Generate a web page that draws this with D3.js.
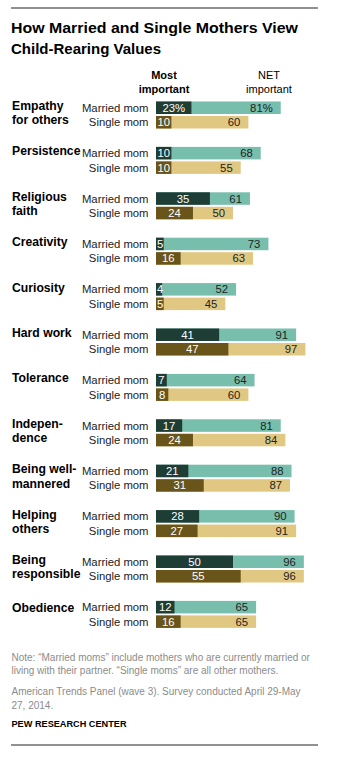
<!DOCTYPE html>
<html><head><meta charset="utf-8">
<script src="https://cdn.jsdelivr.net/npm/d3@7"></script>
<style>
body{margin:0;background:#fff;}
svg{display:block;font-family:"Liberation Sans",Arial,sans-serif;}
</style></head><body>
<svg id="chart" width="349" height="757"></svg>
<script>
const categories = [
  ["Empathy","for others"],
  ["Persistence"],
  ["Religious","faith"],
  ["Creativity"],
  ["Curiosity"],
  ["Hard work"],
  ["Tolerance"],
  ["Indepen-","dence"],
  ["Being well-","mannered"],
  ["Helping","others"],
  ["Being","responsible"],
  ["Obedience"]
];
const groups = ["Married mom","Single mom"];
const marriedMost = [23,10,35,5,4,41,7,17,21,28,50,12];
const marriedNet  = [81,68,61,73,52,91,64,81,88,90,96,65];
const singleMost  = [10,10,24,16,5,47,8,24,31,27,55,16];
const singleNet   = [60,55,50,63,45,97,60,84,87,91,96,65];
const headers = [["Most","important"],["NET","important"]];
const title = ["How Married and Single Mothers View","Child-Rearing Values"];
const notes = [
  "Note: \u201cMarried moms\u201d include mothers who are currently married or",
  "living with their partner. \u201cSingle moms\u201d are all other mothers."
];
const source = ["American Trends Panel (wave 3). Survey conducted April 29-May","27, 2014."];
const credit = "PEW RESEARCH CENTER";

const colors = {
  married:{most:"#1e3d35", net:"#77bead"},
  single:{most:"#69541a", net:"#e1c882"}
};

const svg = d3.select("#chart");
const x = d3.scaleLinear().domain([0,100]).range([156,310]);
const gy = d3.scaleLinear().domain([0,11]).range([101.5,101.5+11*45.4]);
const barH = 12.5, rowStep = 14.5;

// rules
svg.append("line").attr("x1",11).attr("x2",318).attr("y1",8).attr("y2",8).attr("stroke","#222").attr("stroke-width",1);
svg.append("line").attr("x1",11).attr("x2",318).attr("y1",745).attr("y2",745).attr("stroke","#222").attr("stroke-width",1);

// title
svg.append("g").selectAll("text").data(title).join("text")
  .attr("x",11).attr("y",(d,i)=>33.3+i*21)
  .attr("font-size",15).attr("font-weight","bold").attr("fill","#000")
  .text(d=>d).each(function(){ fitWidth(this, 287, 0); });

function fitWidth(node, target, idx){
  // only apply to first title line
  const w = node.getComputedTextLength();
  if (node.textContent===title[0] && Math.abs(w-target)>2) {
    d3.select(node).attr("textLength",target).attr("lengthAdjust","spacingAndGlyphs");
  }
}

// headers
const hx = [164,269];
headers.forEach((h,j)=>{
  svg.append("text").attr("x",hx[j]).attr("y",78.5).attr("text-anchor","middle")
    .attr("font-size",11).attr("font-weight",j===0?"bold":"normal").attr("fill","#000")
    .selectAll("tspan").data(h).join("tspan").attr("x",hx[j]).attr("dy",(d,i)=>i?14:0).text(d=>d);
});

const rows = [];
categories.forEach((c,i)=>{
  rows.push({i, r:0, most:marriedMost[i], net:marriedNet[i], col:colors.married});
  rows.push({i, r:1, most:singleMost[i], net:singleNet[i], col:colors.single});
});

const g = svg.append("g");
// category labels
categories.forEach((c,i)=>{
  const y0 = gy(i)+8.5 + (c.length===1 && i===categories.length-1 ? 3 : 0);
  g.append("text").attr("x",12).attr("y",y0).attr("font-size",12.2).attr("font-weight","bold").attr("fill","#000")
    .selectAll("tspan").data(c).join("tspan").attr("x",12).attr("dy",(d,k)=>k?14.3:0).text(d=>d);
});

const rg = g.selectAll("g.row").data(rows).join("g").attr("class","row")
  .attr("transform",d=>`translate(0,${gy(d.i)+d.r*rowStep})`);

rg.append("text").attr("x",148.5).attr("y",barH/2+4).attr("text-anchor","end")
  .attr("font-size",11.3).attr("fill","#222").text(d=>groups[d.r]);

rg.append("rect").attr("x",x(0)).attr("y",0).attr("height",barH)
  .attr("width",d=>x(d.net)-x(0)).attr("fill",d=>d.col.net);
rg.append("rect").attr("x",x(0)).attr("y",0).attr("height",barH)
  .attr("width",d=>x(d.most)-x(0)).attr("fill",d=>d.col.most);

const pct = d => (d.i===0 && d.r===0) ? "%" : "";
rg.append("text").attr("y",barH/2+4).attr("text-anchor","middle")
  .attr("font-size",11.3).attr("fill","#fff").text(d=>d.most+pct(d))
  .each(function(d){
    const w = this.getComputedTextLength();
    const cx = Math.max((x(0)+x(d.most))/2, x(0)+w/2+1);
    d3.select(this).attr("x",cx);
  });
rg.append("text").attr("x",d=>x(d.net)-8).attr("y",barH/2+4).attr("text-anchor","end")
  .attr("font-size",11.3).attr("fill","#222").text(d=>d.net+pct(d));

// notes
const noteG = svg.append("g").attr("font-size",10).attr("fill","#8c8c8c");
noteG.selectAll("text.n").data(notes).join("text").attr("class","n")
  .attr("x",11.5).attr("y",(d,i)=>660.7+i*13.6).text(d=>d)
  .each(function(d,i){ if(i===0){ const w=this.getComputedTextLength(); if(w>305) d3.select(this).attr("textLength",305).attr("lengthAdjust","spacingAndGlyphs"); }});
noteG.selectAll("text.s").data(source).join("text").attr("class","s")
  .attr("x",11.5).attr("y",(d,i)=>695+i*14).text(d=>d)
  .each(function(d,i){ if(i===0){ const w=this.getComputedTextLength(); if(w>292) d3.select(this).attr("textLength",292).attr("lengthAdjust","spacingAndGlyphs"); }});
svg.append("text").attr("x",11.5).attr("y",727).attr("font-size",9.5).attr("font-weight","bold").attr("fill","#000")
  .text(credit).each(function(){ const w=this.getComputedTextLength(); if(w>115) d3.select(this).attr("textLength",115).attr("lengthAdjust","spacingAndGlyphs"); });
</script>
</body></html>
